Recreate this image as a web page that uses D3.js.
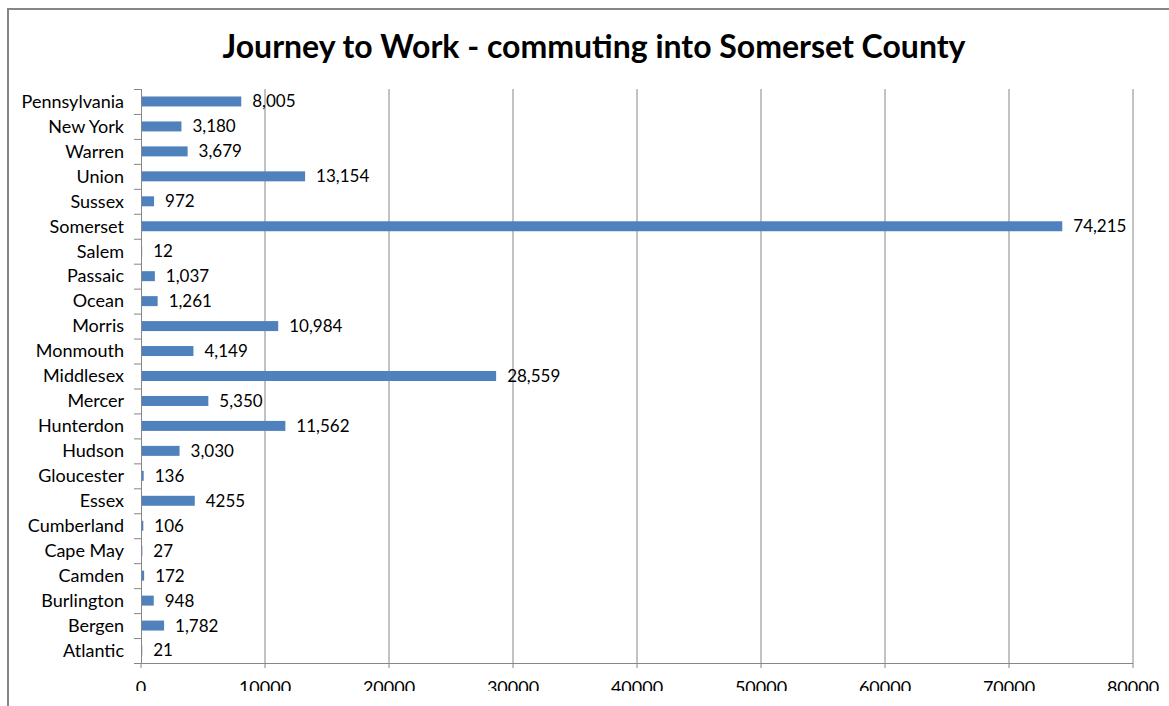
<!DOCTYPE html>
<html>
<head>
<meta charset="utf-8">
<script src="https://cdn.jsdelivr.net/npm/d3@7"></script>
<style>
  body { margin: 0; background: #fff; }
  text { font-family: Lato, "Open Sans", sans-serif; }
</style>
</head>
<body>
<div id="chart"></div>
<script>
// Commuters into Somerset County, by place of residence
const counties = ["Pennsylvania", "New York", "Warren", "Union", "Sussex", "Somerset", "Salem",
  "Passaic", "Ocean", "Morris", "Monmouth", "Middlesex", "Mercer", "Hunterdon", "Hudson",
  "Gloucester", "Essex", "Cumberland", "Cape May", "Camden", "Burlington", "Bergen", "Atlantic"];
const commuters = [8005, 3180, 3679, 13154, 972, 74215, 12, 1037, 1261, 10984, 4149, 28559,
  5350, 11562, 3030, 136, 4255, 106, 27, 172, 948, 1782, 21];
const valueLabels = ["8,005", "3,180", "3,679", "13,154", "972", "74,215", "12", "1,037", "1,261",
  "10,984", "4,149", "28,559", "5,350", "11,562", "3,030", "136", "4255", "106", "27", "172",
  "948", "1,782", "21"];
const xTicks = [0, 10000, 20000, 30000, 40000, 50000, 60000, 70000, 80000];

const width = 1169, height = 706;
const margin = { top: 89, left: 141, right: 36, bottom: 43 };

const svg = d3.select("#chart").append("svg")
  .attr("width", width)
  .attr("height", height);

// chart frame
svg.append("rect")
  .attr("x", 8).attr("y", 9)
  .attr("width", width + 10).attr("height", height + 10)
  .attr("fill", "none")
  .attr("stroke", "#868686")
  .attr("stroke-width", 2);

svg.append("text")
  .attr("x", 594).attr("y", 58)
  .attr("text-anchor", "middle")
  .attr("font-size", 32)
  .attr("font-weight", "bold")
  .attr("fill", "#000")
  .text("Journey to Work - commuting into Somerset County");

const x = d3.scaleLinear()
  .domain([0, 80000])
  .range([margin.left, width - margin.right]);

const y = d3.scaleBand()
  .domain(counties)
  .range([margin.top, height - margin.bottom])
  .paddingInner(0.6)
  .paddingOuter(0.3);

const step = y.step();
const y0 = margin.top, y1 = height - margin.bottom;

// gridlines
svg.append("g")
  .selectAll("line")
  .data(xTicks.slice(1))
  .join("line")
  .attr("x1", d => x(d)).attr("x2", d => x(d))
  .attr("y1", y0).attr("y2", y1 + 5)
  .attr("stroke", "#868686")
  .attr("stroke-width", 1);

// x axis
svg.append("line")
  .attr("x1", x(0) - 7).attr("x2", x(80000))
  .attr("y1", y1 + 0.5).attr("y2", y1 + 0.5)
  .attr("stroke", "#868686");
svg.append("line")
  .attr("x1", x(0)).attr("x2", x(0))
  .attr("y1", y1).attr("y2", y1 + 5)
  .attr("stroke", "#868686");

svg.append("clipPath").attr("id", "clipx")
  .append("rect").attr("x", 0).attr("y", 0).attr("width", width).attr("height", 691);

svg.append("g")
  .attr("clip-path", "url(#clipx)")
  .selectAll("text")
  .data(xTicks)
  .join("text")
  .attr("x", d => x(d))
  .attr("y", 694)
  .attr("text-anchor", "middle")
  .attr("font-size", 18)
  .attr("fill", "#000")
  .text(d => d);

// y axis with tick marks between categories
svg.append("line")
  .attr("x1", x(0) + 0.5).attr("x2", x(0) + 0.5)
  .attr("y1", y0).attr("y2", y1)
  .attr("stroke", "#868686");
svg.append("g")
  .selectAll("line")
  .data(d3.range(counties.length + 1))
  .join("line")
  .attr("x1", x(0) - 7).attr("x2", x(0))
  .attr("y1", i => y0 + i * step + 0.5).attr("y2", i => y0 + i * step + 0.5)
  .attr("stroke", "#868686");

svg.append("g")
  .selectAll("text")
  .data(counties)
  .join("text")
  .attr("x", x(0) - 17)
  .attr("y", d => y(d) + y.bandwidth() / 2)
  .attr("dy", "0.35em")
  .attr("text-anchor", "end")
  .attr("font-size", 18)
  .attr("fill", "#000")
  .text(d => d);

// bars
svg.append("g")
  .selectAll("rect")
  .data(commuters)
  .join("rect")
  .attr("x", x(0) + 1)
  .attr("y", (d, i) => y(counties[i]))
  .attr("width", d => Math.max(0, x(d) - x(0)))
  .attr("height", y.bandwidth())
  .attr("fill", "#4f81bd");

svg.append("g")
  .selectAll("text")
  .data(commuters)
  .join("text")
  .attr("x", d => x(d) + 12)
  .attr("y", (d, i) => y(counties[i]) + y.bandwidth() / 2)
  .attr("dy", "0.35em")
  .attr("font-size", 17)
  .attr("fill", "#000")
  .text((d, i) => valueLabels[i]);
</script>
</body>
</html>
